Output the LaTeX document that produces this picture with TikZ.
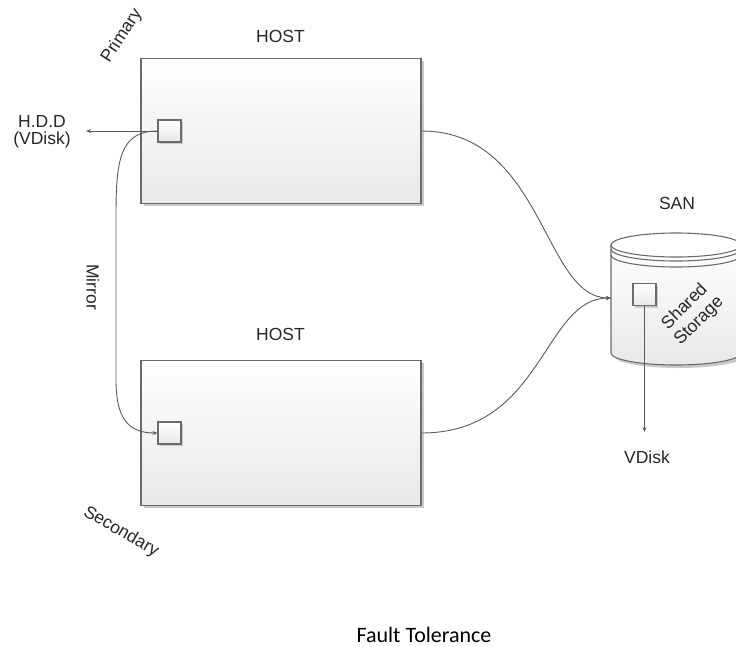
\documentclass[tikz,border=0pt]{standalone}
\usepackage{fontspec}
\setmainfont{Liberation Sans}
\newfontfamily\calibrifont{Carlito}
\usetikzlibrary{arrows.meta,shadows}
\definecolor{boxline}{HTML}{6B6B6B}
\definecolor{connline}{HTML}{5A5A5A}
\definecolor{shadegray}{HTML}{C9C9C9}
\definecolor{fillbottom}{HTML}{E8E8E8}
\tikzset{
  lbl/.style={inner sep=0pt, font=\fontsize{17.5}{17}\selectfont, text=black!85},
  hostbox/.style={draw=boxline, line width=1.1pt, top color=white, bottom color=fillbottom,
     minimum width=280pt, minimum height=145pt, inner sep=0pt,
     drop shadow={shadow xshift=2.5pt, shadow yshift=-2.5pt, fill=shadegray, opacity=1}},
  diskbox/.style={draw=boxline, line width=1.1pt, top color=white, bottom color=fillbottom,
     minimum width=23pt, minimum height=22pt, inner sep=0pt,
     drop shadow={shadow xshift=2pt, shadow yshift=-2pt, fill=shadegray, opacity=1}},
  conn/.style={draw=connline, line width=0.9pt},
  tip/.style={-{Stealth[length=5pt,width=4pt]}}
}
\begin{document}
\begin{tikzpicture}[x=1pt,y=-1pt]
\useasboundingbox (0,0) rectangle (736,646);
\clip (0,0) rectangle (736,646);

% hosts
\node[hostbox] (h1) at (281,131) {};
\node[hostbox] (h2) at (281,433) {};
\node[diskbox] (h1d) at (169.5,131) {};
\node[diskbox] (h2d) at (169.5,433) {};

% SAN cylinder
\begin{scope}[shift={(676,245)}]
  \fill[shadegray] (-62,3) -- (-62,111) .. controls (-62,117.6) and (-32.1,123) .. (3,123)
     .. controls (38.9,123) and (68,117.6) .. (68,111) -- (68,3) -- cycle;
  \path[draw=boxline, line width=1.1pt, top color=white, bottom color=fillbottom]
     (-65,0) -- (-65,108) .. controls (-65,114.6) and (-35.9,120) .. (0,120)
     .. controls (35.9,120) and (65,114.6) .. (65,108) -- (65,0) -- cycle;
  \path[draw=boxline, line width=1.1pt, fill=white]
     (-65,0) .. controls (-65,-6.6) and (-35.9,-12) .. (0,-12)
     .. controls (35.9,-12) and (65,-6.6) .. (65,0)
     .. controls (65,6.6) and (35.9,12) .. (0,12)
     .. controls (-35.9,12) and (-65,6.6) .. (-65,0) -- cycle;
  \draw[boxline, line width=1.1pt] (-65,4) .. controls (-65,10.6) and (-35.9,16) .. (0,16)
     .. controls (35.9,16) and (65,10.6) .. (65,4);
  \draw[boxline, line width=1.1pt] (-65,10) .. controls (-65,16.6) and (-35.9,22) .. (0,22)
     .. controls (35.9,22) and (65,16.6) .. (65,10);
\end{scope}
\coordinate (sanw) at (611,298);
\node[diskbox] (sd) at (644.5,294.5) {};

% labels
\node[lbl, anchor=base] (host1lbl) at (280.5,42) {HOST};
\node[lbl, anchor=base] (host2lbl) at (280.5,340) {HOST};
\node[lbl, anchor=base] (sanlbl) at (677,209) {SAN};
\node[lbl, anchor=base] (vdisk) at (647,463) {VDisk};
\node[lbl, align=center] (hdd) at (42,132) {H.D.D\\(VDisk)};
\node[lbl, rotate=57] (primary) at (122,36) {Primary};
\node[lbl, rotate=-30] (secondary) at (121,532) {Secondary};
\node[lbl, rotate=-90] (mirror) at (93,287) {Mirror};
\node[lbl, rotate=45, align=center, font=\fontsize{17.5}{20}\selectfont] (shared) at (692,314) {Shared\\Storage};
\node[inner sep=0pt, anchor=base, font=\calibrifont\fontsize{22}{26}\selectfont] (title) at (424,642) {Fault Tolerance};

% connectors
\coordinate (hddend) at (86,131);
\coordinate (vdend) at (644.5,432);
\draw[conn, tip] (h1d.west) -- (hddend);
\draw[conn, tip] (h1d.west) .. controls (120,131) and (116,160) .. (116,215)
   -- (116,380) .. controls (116,418) and (128,433) .. (h2d.west);
\draw[conn, tip] (h1.east) .. controls +(122,0) and +(-68,0) .. (sanw);
\draw[conn, tip] (h2.east) .. controls +(122,0) and +(-68,0) .. (sanw);
\draw[conn, tip] (sd.south) -- (vdend);
\end{tikzpicture}
\end{document}
